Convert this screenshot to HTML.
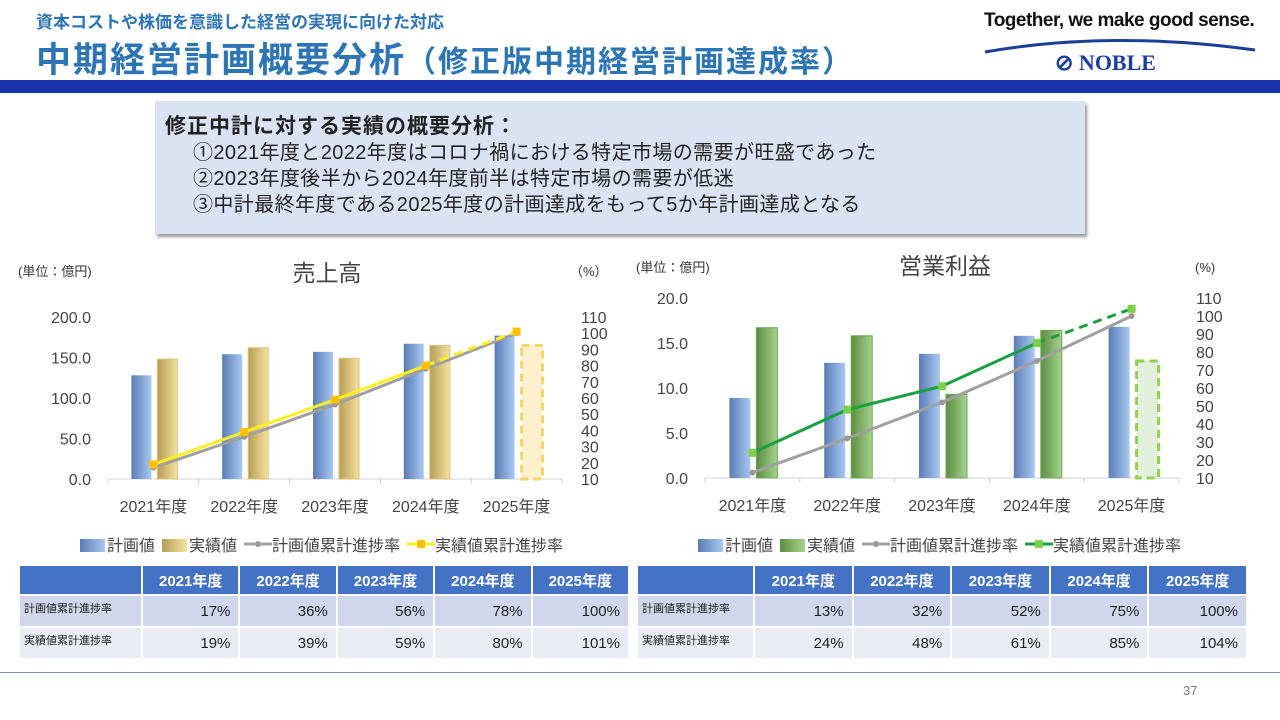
<!DOCTYPE html>
<html><head><meta charset="utf-8">
<style>
*{margin:0;padding:0;box-sizing:border-box}
body{width:1280px;height:720px;position:relative;background:#fff;font-family:"Liberation Sans","Noto Sans CJK JP",sans-serif;overflow:hidden;color:#222}
.abs{position:absolute}
table{position:absolute;border-collapse:separate;border-spacing:2px;font-size:15px}
td{background:#d0d6eb;text-align:right;padding-right:8px;height:30px;vertical-align:middle}
tr.alt td{background:#e9ecf5}
th{background:#4472c4;color:#fff;font-weight:bold;height:28px;font-size:15px}
td.lab{text-align:left;font-size:11px;padding-left:4px;padding-right:0;vertical-align:top;padding-top:4px}
</style></head><body>
<div class="abs" style="left:36px;top:8px;font-size:17px;font-weight:bold;color:#2e75b6">資本コストや株価を意識した経営の実現に向けた対応</div>
<div class="abs" style="left:36px;top:32px;font-size:35px;font-weight:bold;color:#2e75b6;letter-spacing:2px">中期経営計画概要分析<span style="font-size:30px">（修正版中期経営計画達成率）</span></div>
<div class="abs" style="left:984px;top:10px;font-size:19px;font-weight:bold;color:#111;letter-spacing:-0.5px">Together, we make good sense.</div>
<svg class="abs" style="left:980px;top:36px" width="280" height="20"><path d="M5 16 Q130 -6 275 14" stroke="#1a3f9a" stroke-width="3" fill="none"/></svg>
<div class="abs" style="left:1055px;top:50px;font-size:22px;font-weight:bold;color:#1a3f9a;font-family:'Liberation Serif',serif">⊘ NOBLE</div>
<div class="abs" style="left:0;top:80px;width:1280px;height:13px;background:#1a35aa"></div>
<div class="abs" style="left:155px;top:101px;width:930px;height:133px;background:#dae3f3;box-shadow:2px 3px 3px #999;padding:13px 0 0 10px;font-size:20px;line-height:26px;letter-spacing:0.4px">
<div style="font-weight:bold;font-size:21px;letter-spacing:1px">修正中計に対する実績の概要分析：</div>
<div style="padding-left:28px">①2021年度と2022年度はコロナ禍における特定市場の需要が旺盛であった</div>
<div style="padding-left:28px">②2023年度後半から2024年度前半は特定市場の需要が低迷</div>
<div style="padding-left:28px">③中計最終年度である2025年度の計画達成をもって5か年計画達成となる</div>
</div>
<svg id="chart" class="abs" style="left:0;top:0" width="1280" height="720">
<defs>
<linearGradient id="gb" x1="0" x2="1"><stop offset="0" stop-color="#5a7cb5"/><stop offset="1" stop-color="#a9c8f2"/></linearGradient>
<linearGradient id="gy" x1="0" x2="1"><stop offset="0" stop-color="#b79d55"/><stop offset="1" stop-color="#f6e2a0"/></linearGradient>
<linearGradient id="gg" x1="0" x2="1"><stop offset="0" stop-color="#5c8d45"/><stop offset="1" stop-color="#a6d38c"/></linearGradient>
</defs>
<g id="g"></g>
</svg>
<table style="left:18px;top:564px;width:612px">
<tr><th style="width:121px;"></th><th>2021年度</th><th>2022年度</th><th>2023年度</th><th>2024年度</th><th>2025年度</th></tr>
<tr><td class="lab">計画値累計進捗率</td><td>17%</td><td>36%</td><td>56%</td><td>78%</td><td>100%</td></tr>
<tr class="alt"><td class="lab">実績値累計進捗率</td><td>19%</td><td>39%</td><td>59%</td><td>80%</td><td>101%</td></tr>
</table>
<table style="left:636px;top:564px;width:612px">
<tr><th style="width:115px;"></th><th>2021年度</th><th>2022年度</th><th>2023年度</th><th>2024年度</th><th>2025年度</th></tr>
<tr><td class="lab">計画値累計進捗率</td><td>13%</td><td>32%</td><td>52%</td><td>75%</td><td>100%</td></tr>
<tr class="alt"><td class="lab">実績値累計進捗率</td><td>24%</td><td>48%</td><td>61%</td><td>85%</td><td>104%</td></tr>
</table>
<div class="abs" style="left:0;top:672px;width:1280px;height:1px;background:#7f8fa9"></div>
<div class="abs" style="left:1183px;top:683px;font-size:13px;color:#777">37</div>
<script>
const categories=["2021年度","2022年度","2023年度","2024年度","2025年度"];
const salesPlan=[128,154,157,167,177];
const salesActual=[148,162,149,165,165];
const salesPlanRate=[17,36,56,78,100];
const salesActualRate=[19,39,59,80,101];
const salesTicks=["0.0","50.0","100.0","150.0","200.0"];
const profitPlan=[8.9,12.8,13.8,15.8,16.8];
const profitActual=[16.7,15.8,9.3,16.4,13.0];
const profitPlanRate=[13,32,52,75,100];
const profitActualRate=[24,48,61,85,104];
const profitTicks=["0.0","5.0","10.0","15.0","20.0"];
const pctTicks=[10,20,30,40,50,60,70,80,90,100,110];
const NS="http://www.w3.org/2000/svg";
const G=document.getElementById('g');
function mk(t,a,txt){const e=document.createElementNS(NS,t);for(const k in a)e.setAttribute(k,a[k]);if(txt!==undefined)e.textContent=txt;G.appendChild(e);return e;}
function draw(o){
  const n=categories.length,cw=(o.x1-o.x0)/n;
  const y=v=>o.yb-(v/o.vmax)*(o.yb-o.yt);
  const yp=v=>o.yb-((v-10)/100)*(o.yb-o.yt);
  const cx=i=>o.x0+cw*(i+0.5);
  let t=mk('text',{x:o.titleX,y:o.titleY,'font-size':23,fill:'#444','text-anchor':'middle'},o.title);
  
  t=mk('text',{x:o.unitX,y:o.labY,'font-size':13,fill:'#333'},'(単位：億円)');
  
  t=mk('text',{x:o.pctX,y:o.labY,'font-size':13,fill:'#333'},o.pctLabel);
  
  o.ticks.forEach((s,i)=>{const v=o.vmax*i/(o.ticks.length-1);
    const e=mk('text',{x:o.lx,y:y(v)+6,'font-size':16,fill:'#444','text-anchor':'end'},s);
    });
  pctTicks.forEach(v=>{const e=mk('text',{x:o.rx,y:yp(v)+6,'font-size':16,fill:'#444'},v);
    });
  const ax=mk('line',{x1:o.x0,x2:o.x1,y1:o.yb,y2:o.yb,stroke:'#d0d0d0','stroke-width':1});
  
  for(let i=0;i<=n;i++)mk('line',{x1:o.x0+cw*i,x2:o.x0+cw*i,y1:o.yb,y2:o.yb+5,stroke:'#d0d0d0'});
  categories.forEach((c,i)=>{const e=mk('text',{x:cx(i),y:o.yb+33,'font-size':16,fill:'#444','text-anchor':'middle'},c);
    });
  const bw=o.bw;
  o.plan.forEach((v,i)=>{const b=mk('rect',{x:cx(i)-bw-2,y:y(v),width:bw,height:o.yb-y(v),fill:'url(#gb)'});
    });
  o.actual.forEach((v,i)=>{let b;
    if(i===n-1)b=mk('rect',{x:cx(i)+5,y:y(v),width:bw+1,height:o.yb-y(v),fill:o.fade,stroke:o.dash,'stroke-width':3,'stroke-dasharray':'8,5'});
    else b=mk('rect',{x:cx(i)+4,y:y(v),width:bw,height:o.yb-y(v),fill:o.grad,stroke:o.edge,'stroke-width':1});
    });
  const pp=o.planRate.map((v,i)=>cx(i)+','+yp(v)).join(' ');
  let l=mk('polyline',{points:pp,fill:'none',stroke:'#a0a0a0','stroke-width':3});
  
  o.planRate.forEach((v,i)=>{const m=mk('circle',{cx:cx(i),cy:yp(v),r:3,fill:'#999'});
    });
  const ap=o.actRate.slice(0,n-1).map((v,i)=>cx(i)+','+yp(v)).join(' ');
  l=mk('polyline',{points:ap,fill:'none',stroke:o.lineC,'stroke-width':3});
  
  l=mk('line',{x1:cx(n-2),y1:yp(o.actRate[n-2]),x2:cx(n-1),y2:yp(o.actRate[n-1]),stroke:o.lineC,'stroke-width':3,'stroke-dasharray':'9,6'});
  
  o.actRate.forEach((v,i)=>{const m=mk('rect',{x:cx(i)-4,y:yp(v)-4,width:8,height:8,fill:o.markC});
    });
  let lx=o.legX,ly=o.legY;
  const items=[['bar','url(#gb)','計画値'],['bar',o.grad,'実績値'],['lineD','#a0a0a0','計画値累計進捗率'],['lineS',o.lineC,'実績値累計進捗率']];
  items.forEach(it=>{
    if(it[0]==='bar'){mk('rect',{x:lx,y:ly-8,width:25,height:13,fill:it[1]});lx+=27;}
    else{mk('line',{x1:lx,x2:lx+28,y1:ly-3,y2:ly-3,stroke:it[1],'stroke-width':3});
      if(it[0]==='lineD')mk('circle',{cx:lx+14,cy:ly-3,r:3,fill:'#999'});else mk('rect',{x:lx+10,y:ly-7,width:8,height:8,fill:o.markC});lx+=28;}
    const e=mk('text',{x:lx,y:ly+4,'font-size':16,fill:'#444'},it[2]);
    
    lx+=e.getComputedTextLength()+7;});
}
draw({id:'sales',title:'売上高',titleX:327,titleY:281,unitX:18,pctX:570,labY:276,pctLabel:'（%）',x0:108,x1:562,yt:317,yb:479,vmax:200,lx:91,rx:581,bw:20,
  ticks:salesTicks,plan:salesPlan,actual:salesActual,planRate:salesPlanRate,actRate:salesActualRate,
  grad:'url(#gy)',edge:'#d9c27a',fade:'#fdf0cc',dash:'#f7d36a',lineC:'#ffee22',markC:'#ffc000',legX:80,legY:547});
draw({id:'profit',title:'営業利益',titleX:945,titleY:274,unitX:636,pctX:1195,labY:272,pctLabel:'(%)',x0:705,x1:1179,yt:298,yb:478,vmax:20,lx:688,rx:1196,bw:21,
  ticks:profitTicks,plan:profitPlan,actual:profitActual,planRate:profitPlanRate,actRate:profitActualRate,
  grad:'url(#gg)',edge:'#6fa657',fade:'#e2efda',dash:'#92d050',lineC:'#1aa040',markC:'#7dd04a',legX:698,legY:547});
</script>
</body></html>
